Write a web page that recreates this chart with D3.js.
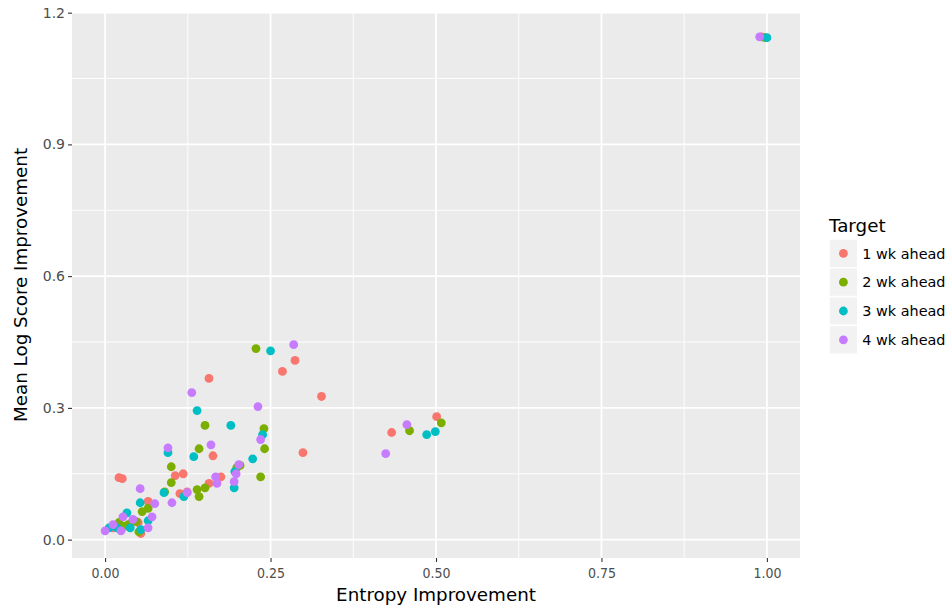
<!DOCTYPE html>
<html><head><meta charset="utf-8">
<script src="https://cdn.jsdelivr.net/npm/d3@7"></script>
<style>body{margin:0;background:#fff}svg{display:block}</style>
</head><body>
<svg id="c" width="950" height="611"></svg>
<script>
// Data: [Entropy Improvement, Mean Log Score Improvement]
const targets = ["1 wk ahead", "2 wk ahead", "3 wk ahead", "4 wk ahead"];
const colors = ["#F8766D", "#7CAE00", "#00BFC4", "#C77CFF"];
const wk1 = [[0.021,0.141],[0.026,0.139],[0.065,0.087],[0.054,0.014],[0.106,0.146],[0.118,0.150],[0.163,0.191],[0.175,0.143],[0.157,0.128],[0.113,0.105],[0.124,0.109],[0.157,0.367],[0.268,0.383],[0.287,0.408],[0.299,0.198],[0.327,0.326],[0.433,0.244],[0.501,0.280],[0.992,1.145],[0.038,0.036],[0.050,0.039],[0.012,0.027]];
const wk2 = [[0.100,0.166],[0.100,0.130],[0.090,0.109],[0.056,0.064],[0.065,0.071],[0.139,0.114],[0.142,0.098],[0.151,0.118],[0.021,0.039],[0.035,0.034],[0.047,0.041],[0.051,0.018],[0.029,0.030],[0.151,0.260],[0.142,0.207],[0.228,0.435],[0.240,0.253],[0.241,0.207],[0.235,0.143],[0.199,0.164],[0.204,0.169],[0.460,0.248],[0.508,0.266],[0.997,1.143]];
const wk3 = [[0.250,0.430],[0.139,0.294],[0.190,0.260],[0.095,0.198],[0.134,0.189],[0.238,0.239],[0.223,0.184],[0.196,0.155],[0.195,0.118],[0.089,0.107],[0.119,0.098],[0.053,0.084],[0.033,0.061],[0.065,0.043],[0.054,0.023],[0.006,0.027],[0.018,0.027],[0.038,0.027],[0.486,0.239],[0.499,0.246],[1.000,1.143]];
const wk4 = [[0.285,0.444],[0.131,0.335],[0.231,0.303],[0.095,0.209],[0.160,0.216],[0.235,0.228],[0.202,0.171],[0.198,0.150],[0.195,0.132],[0.167,0.143],[0.169,0.128],[0.124,0.107],[0.456,0.262],[0.424,0.196],[0.989,1.145],[0.053,0.116],[0.075,0.082],[0.101,0.084],[0.027,0.052],[0.042,0.046],[0.071,0.052],[0.065,0.027],[0.000,0.020],[0.012,0.034],[0.024,0.020]];
const series = [wk1, wk2, wk3, wk4];
const xTicks = [0, 0.25, 0.5, 0.75, 1.0];
const xTickLabels = ["0.00", "0.25", "0.50", "0.75", "1.00"];
const yTicks = [0, 0.3, 0.6, 0.9, 1.2];
const yTickLabels = ["0.0", "0.3", "0.6", "0.9", "1.2"];
const xMinor = [0.125, 0.375, 0.625, 0.875];
const yMinor = [0.15, 0.45, 0.75, 1.05];

const svg = d3.select("#c");
const P = {l: 72, r: 800, t: 12, b: 558};
const x = d3.scaleLinear().domain([-0.05, 1.05]).range([P.l, P.r]);
const y = d3.scaleLinear().domain([-0.0418, 1.2015]).range([P.b, P.t]);

svg.append("rect").attr("x", P.l).attr("y", P.t).attr("width", P.r - P.l).attr("height", P.b - P.t).attr("fill", "#EBEBEB");
const g = svg.append("g");
g.selectAll(".xm").data(xMinor).join("line").attr("x1", d => x(d)).attr("x2", d => x(d)).attr("y1", P.t).attr("y2", P.b).attr("stroke", "#fff").attr("stroke-width", 0.9);
g.selectAll(".ym").data(yMinor).join("line").attr("y1", d => y(d)).attr("y2", d => y(d)).attr("x1", P.l).attr("x2", P.r).attr("stroke", "#fff").attr("stroke-width", 0.9);
g.selectAll(".xM").data(xTicks).join("line").attr("x1", d => x(d)).attr("x2", d => x(d)).attr("y1", P.t).attr("y2", P.b).attr("stroke", "#fff").attr("stroke-width", 1.8);
g.selectAll(".yM").data(yTicks).join("line").attr("y1", d => y(d)).attr("y2", d => y(d)).attr("x1", P.l).attr("x2", P.r).attr("stroke", "#fff").attr("stroke-width", 1.8);

// axes
const xAxis = d3.axisBottom(x).tickValues(xTicks).tickFormat((d, i) => xTickLabels[i]).tickSize(4).tickPadding(3);
const yAxis = d3.axisLeft(y).tickValues(yTicks).tickFormat((d, i) => yTickLabels[i]).tickSize(4).tickPadding(3);
const gx = svg.append("g").attr("transform", `translate(0,${P.b})`).call(xAxis);
const gy = svg.append("g").attr("transform", `translate(${P.l},0)`).call(yAxis);
[gx, gy].forEach(a => {
  a.select(".domain").remove();
  a.selectAll(".tick line").attr("stroke", "#333333").attr("stroke-width", 1.1);
  a.selectAll(".tick text").attr("fill", "#4D4D4D").style("font-family", "DejaVu Sans").style("font-size", "14px");
});
gx.selectAll(".tick text").style("font-family", "DejaVu Sans Condensed").attr("dy", "0.95em");

// points
series.forEach((s, i) => {
  svg.append("g").selectAll("circle").data(s).join("circle")
    .attr("cx", d => x(d[0])).attr("cy", d => y(d[1])).attr("r", 4.4).attr("fill", colors[i]);
});

// axis titles
svg.append("text").attr("x", (P.l + P.r) / 2).attr("y", 601).attr("text-anchor", "middle")
  .style("font-family", "DejaVu Sans").style("font-size", "18.3px").attr("fill", "#000").text("Entropy Improvement");
svg.append("text").attr("transform", `translate(27,${(P.t + P.b) / 2}) rotate(-90)`).attr("text-anchor", "middle")
  .style("font-family", "DejaVu Sans").style("font-size", "18.3px").attr("fill", "#000").text("Mean Log Score Improvement");

// legend
const lg = svg.append("g").attr("transform", "translate(829,0)");
lg.append("text").attr("x", 0).attr("y", 232).style("font-family", "DejaVu Sans").style("font-size", "18.3px").attr("fill", "#000").text("Target");
const key = 28.8, k0 = 239;
targets.forEach((t, i) => {
  const yy = k0 + i * key;
  lg.append("rect").attr("x", 0).attr("y", yy).attr("width", key).attr("height", key).attr("fill", "#F2F2F2").attr("stroke", "#fff").attr("stroke-width", 1.5);
  lg.append("circle").attr("cx", key / 2).attr("cy", yy + key / 2).attr("r", 4.4).attr("fill", colors[i]);
  lg.append("text").attr("x", key + 4.5).attr("y", yy + key / 2).attr("dy", "0.36em").style("font-family", "DejaVu Sans").style("font-size", "14.4px").attr("fill", "#000").text(t);
});
</script>
</body></html>
